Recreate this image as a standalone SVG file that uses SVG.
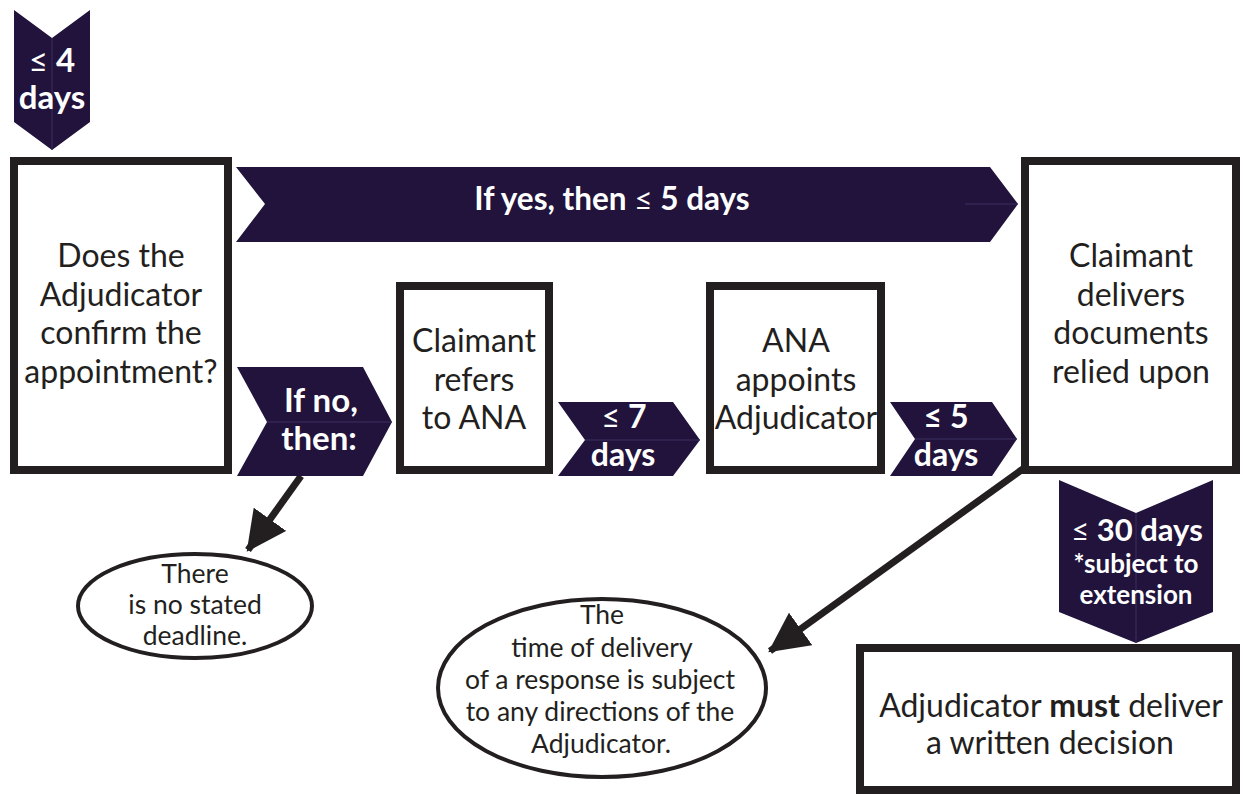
<svg xmlns="http://www.w3.org/2000/svg" width="1243" height="794" viewBox="0 0 1243 794">
<defs>
<style>
.box{fill:#fff;stroke:#231f20;stroke-width:8}
.chev{fill:#21133b}
.seam{stroke:#3d3160;stroke-width:1;fill:none}
.t{font-family:Lato,"Open Sans","Liberation Sans",sans-serif;font-size:32px;fill:#231f20;text-anchor:middle}
.w{font-family:Lato,"Open Sans","Liberation Sans",sans-serif;font-weight:bold;fill:#fff;text-anchor:middle}
.le{font-weight:normal}
.s{font-family:Lato,"Open Sans","Liberation Sans",sans-serif;font-size:26.5px;fill:#231f20;text-anchor:middle}
.ell{fill:#fff;stroke:#231f20;stroke-width:4}
.conn{stroke:#231f20;stroke-width:7;fill:none}
</style>
<marker id="ah" markerUnits="userSpaceOnUse" markerWidth="40" markerHeight="40" refX="34" refY="18" orient="auto" viewBox="0 0 36 36">
<path d="M0,0 L36,18 L0,36 z" fill="#231f20"/>
</marker>
</defs>

<g id="conn">
<line class="conn" x1="301" y1="476" x2="248" y2="550" marker-end="url(#ah)"/>
<line class="conn" x1="1027" y1="466" x2="770" y2="651" marker-end="url(#ah)"/>
</g>

<g id="chev-4days">
<polygon class="chev" points="14,10 52,38 90,10 90,122 52,150 14,122"/>
<line class="seam" x1="52" y1="38" x2="52" y2="150"/>
<text class="w" x="52" y="72" font-size="33"><tspan class="le">≤</tspan> 4</text>
<text class="w" x="52" y="109" font-size="33">days</text>
</g>

<g id="box-confirm">
<rect class="box" x="14" y="161" width="214" height="309"/>
<text class="t" x="121" y="267">Does the</text>
<text class="t" x="121" y="306">Adjudicator</text>
<text class="t" x="121" y="344">confirm the</text>
<text class="t" x="121" y="383">appointment?</text>
</g>

<g id="chev-yes">
<polygon class="chev" points="236,167 990,167 1018,204 990,242 236,242 265,204"/>
<line class="seam" x1="965" y1="204" x2="1018" y2="204"/>
<text class="w" x="612" y="210" font-size="31.5">If yes, then <tspan class="le">≤</tspan> 5 days</text>
</g>

<g id="chev-no">
<polygon class="chev" points="237,367 363,367 392,422 363,476 237,476 267,422"/>
<line class="seam" x1="267" y1="422" x2="392" y2="422"/>
<text class="w" x="321" y="412" font-size="33">If no,</text>
<text class="w" x="319" y="450" font-size="33">then:</text>
</g>

<g id="box-refers">
<rect class="box" x="400" y="286" width="149" height="184"/>
<text class="t" x="474" y="352">Claimant</text>
<text class="t" x="474" y="391">refers</text>
<text class="t" x="474" y="429">to ANA</text>
</g>

<g id="chev-7days">
<polygon class="chev" points="558,402 673,402 700,440 673,476 558,476 585,440"/>
<line class="seam" x1="585" y1="440" x2="700" y2="440"/>
<text class="w" x="624" y="428" font-size="32"><tspan class="le">≤</tspan> 7</text>
<text class="w" x="623" y="466" font-size="32">days</text>
</g>

<g id="box-appoints">
<rect class="box" x="710" y="286" width="171" height="184"/>
<text class="t" x="796" y="352">ANA</text>
<text class="t" x="796" y="391">appoints</text>
<text class="t" x="796" y="429">Adjudicator</text>
</g>

<g id="chev-5days">
<polygon class="chev" points="890,402 992,402 1017,439 992,476 890,476 915,439"/>
<line class="seam" x1="915" y1="439" x2="1017" y2="439"/>
<text class="w" x="946" y="428" font-size="32">≤ 5</text>
<text class="w" x="946" y="466" font-size="32">days</text>
</g>

<g id="box-delivers">
<rect class="box" x="1025" y="161" width="211" height="309"/>
<text class="t" x="1131" y="267">Claimant</text>
<text class="t" x="1131" y="306">delivers</text>
<text class="t" x="1131" y="344">documents</text>
<text class="t" x="1131" y="383">relied upon</text>
</g>

<g id="chev-30days">
<polygon class="chev" points="1059,480 1136,513 1213,480 1213,612 1136,643 1059,612"/>
<line class="seam" x1="1136" y1="513" x2="1136" y2="643"/>
<text class="w" x="1137" y="541" font-size="31"><tspan class="le">≤</tspan> 30 days</text>
<text class="w" x="1136" y="573" font-size="26">*subject to</text>
<text class="w" x="1136" y="604" font-size="26">extension</text>
</g>

<g id="box-decision">
<rect class="box" x="860" y="648" width="376" height="142" stroke-width="9"/>
<text class="t" x="1051" y="717">Adjudicator <tspan font-weight="bold">must</tspan> deliver</text>
<text class="t" x="1050" y="754">a written decision</text>
</g>

<g id="ell-nodeadline">
<ellipse class="ell" cx="195" cy="606" rx="117" ry="52"/>
<text class="s" x="195" y="583">There</text>
<text class="s" x="195" y="614">is no stated</text>
<text class="s" x="195" y="645">deadline.</text>
</g>

<g id="ell-response">
<ellipse class="ell" cx="602" cy="688" rx="164" ry="89"/>
<text class="s" x="602" y="624">The</text>
<text class="s" x="602" y="657">time of delivery</text>
<text class="s" x="600" y="689">of a response is subject</text>
<text class="s" x="600" y="721">to any directions of the</text>
<text class="s" x="601" y="753">Adjudicator.</text>
</g>
</svg>
